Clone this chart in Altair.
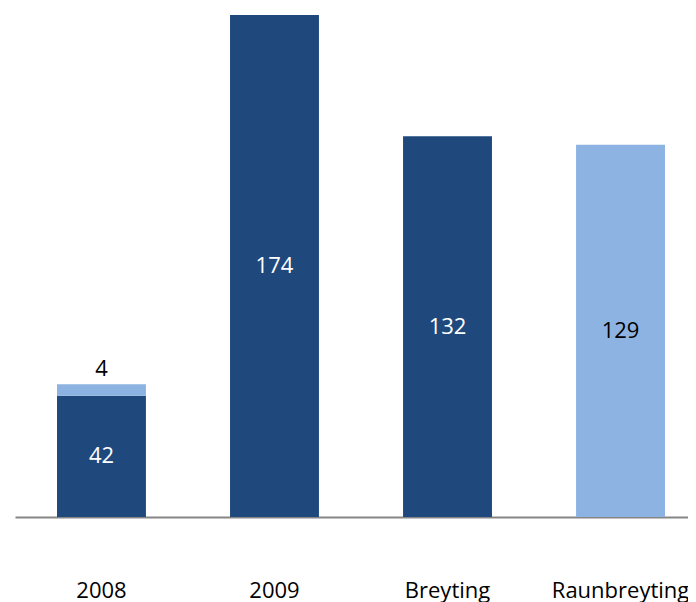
import altair as alt
import pandas as pd

categories = ["2008", "2008", "2009", "Breyting", "Raunbreyting"]
segments = ["base", "extra", "base", "base", "real"]
starts = [0, 42, 0, 0, 0]
ends = [42, 46, 174, 132, 129]
labels = ["42", "4", "174", "132", "129"]
label_pos = ["inside", "above", "inside", "inside", "inside"]
label_colors = ["white", "black", "white", "white", "black"]
order = ["2008", "2009", "Breyting", "Raunbreyting"]

df = pd.DataFrame({
    "cat": categories, "seg": segments, "start": starts, "end": ends,
    "label": labels, "pos": label_pos, "lcol": label_colors,
})
df["mid"] = (df["start"] + df["end"]) / 2

FONT = "Open Sans"
DARK = "#1F497D"
LIGHT = "#8DB3E2"

xscale = alt.Scale(domain=order, range=[0, 692], paddingInner=0.486, paddingOuter=0.2428)
yscale = alt.Scale(domain=[0, 174], nice=False, zero=True)

x = alt.X("cat:N", scale=xscale, sort=order, title=None,
          axis=alt.Axis(labelAngle=0, ticks=False, labelPadding=63, labelFontSize=22,
                        labelFont=FONT, labelColor="black", domainColor="#868686",
                        domainWidth=2, grid=False))

bars = alt.Chart(df).mark_bar().encode(
    x=x,
    y=alt.Y("start:Q", scale=yscale, axis=None),
    y2="end:Q",
    color=alt.Color("seg:N", scale=alt.Scale(domain=["base", "extra", "real"],
                                             range=[DARK, LIGHT, LIGHT]), legend=None),
)

inside = alt.Chart(df).transform_filter("datum.pos == 'inside'").mark_text(
    font=FONT, fontSize=22, baseline="middle", align="center"
).encode(
    x=alt.X("cat:N", scale=xscale, sort=order),
    y=alt.Y("mid:Q", scale=yscale),
    text="label:N",
    color=alt.Color("lcol:N", scale=None),
)

above = alt.Chart(df).transform_filter("datum.pos == 'above'").mark_text(
    font=FONT, fontSize=22, baseline="bottom", align="center", dy=-3
).encode(
    x=alt.X("cat:N", scale=xscale, sort=order),
    y=alt.Y("end:Q", scale=yscale),
    text="label:N",
    color=alt.Color("lcol:N", scale=None),
)

chart = alt.layer(bars, inside, above).properties(
    width=673, height=502,
    autosize=alt.AutoSizeParams(type="none"),
    padding={"left": 7, "top": 7, "right": 0, "bottom": 90},
    background="white",
).configure_view(stroke=None, strokeWidth=0)

chart.save("out.html", embed_options={"renderer": "svg", "actions": False})
